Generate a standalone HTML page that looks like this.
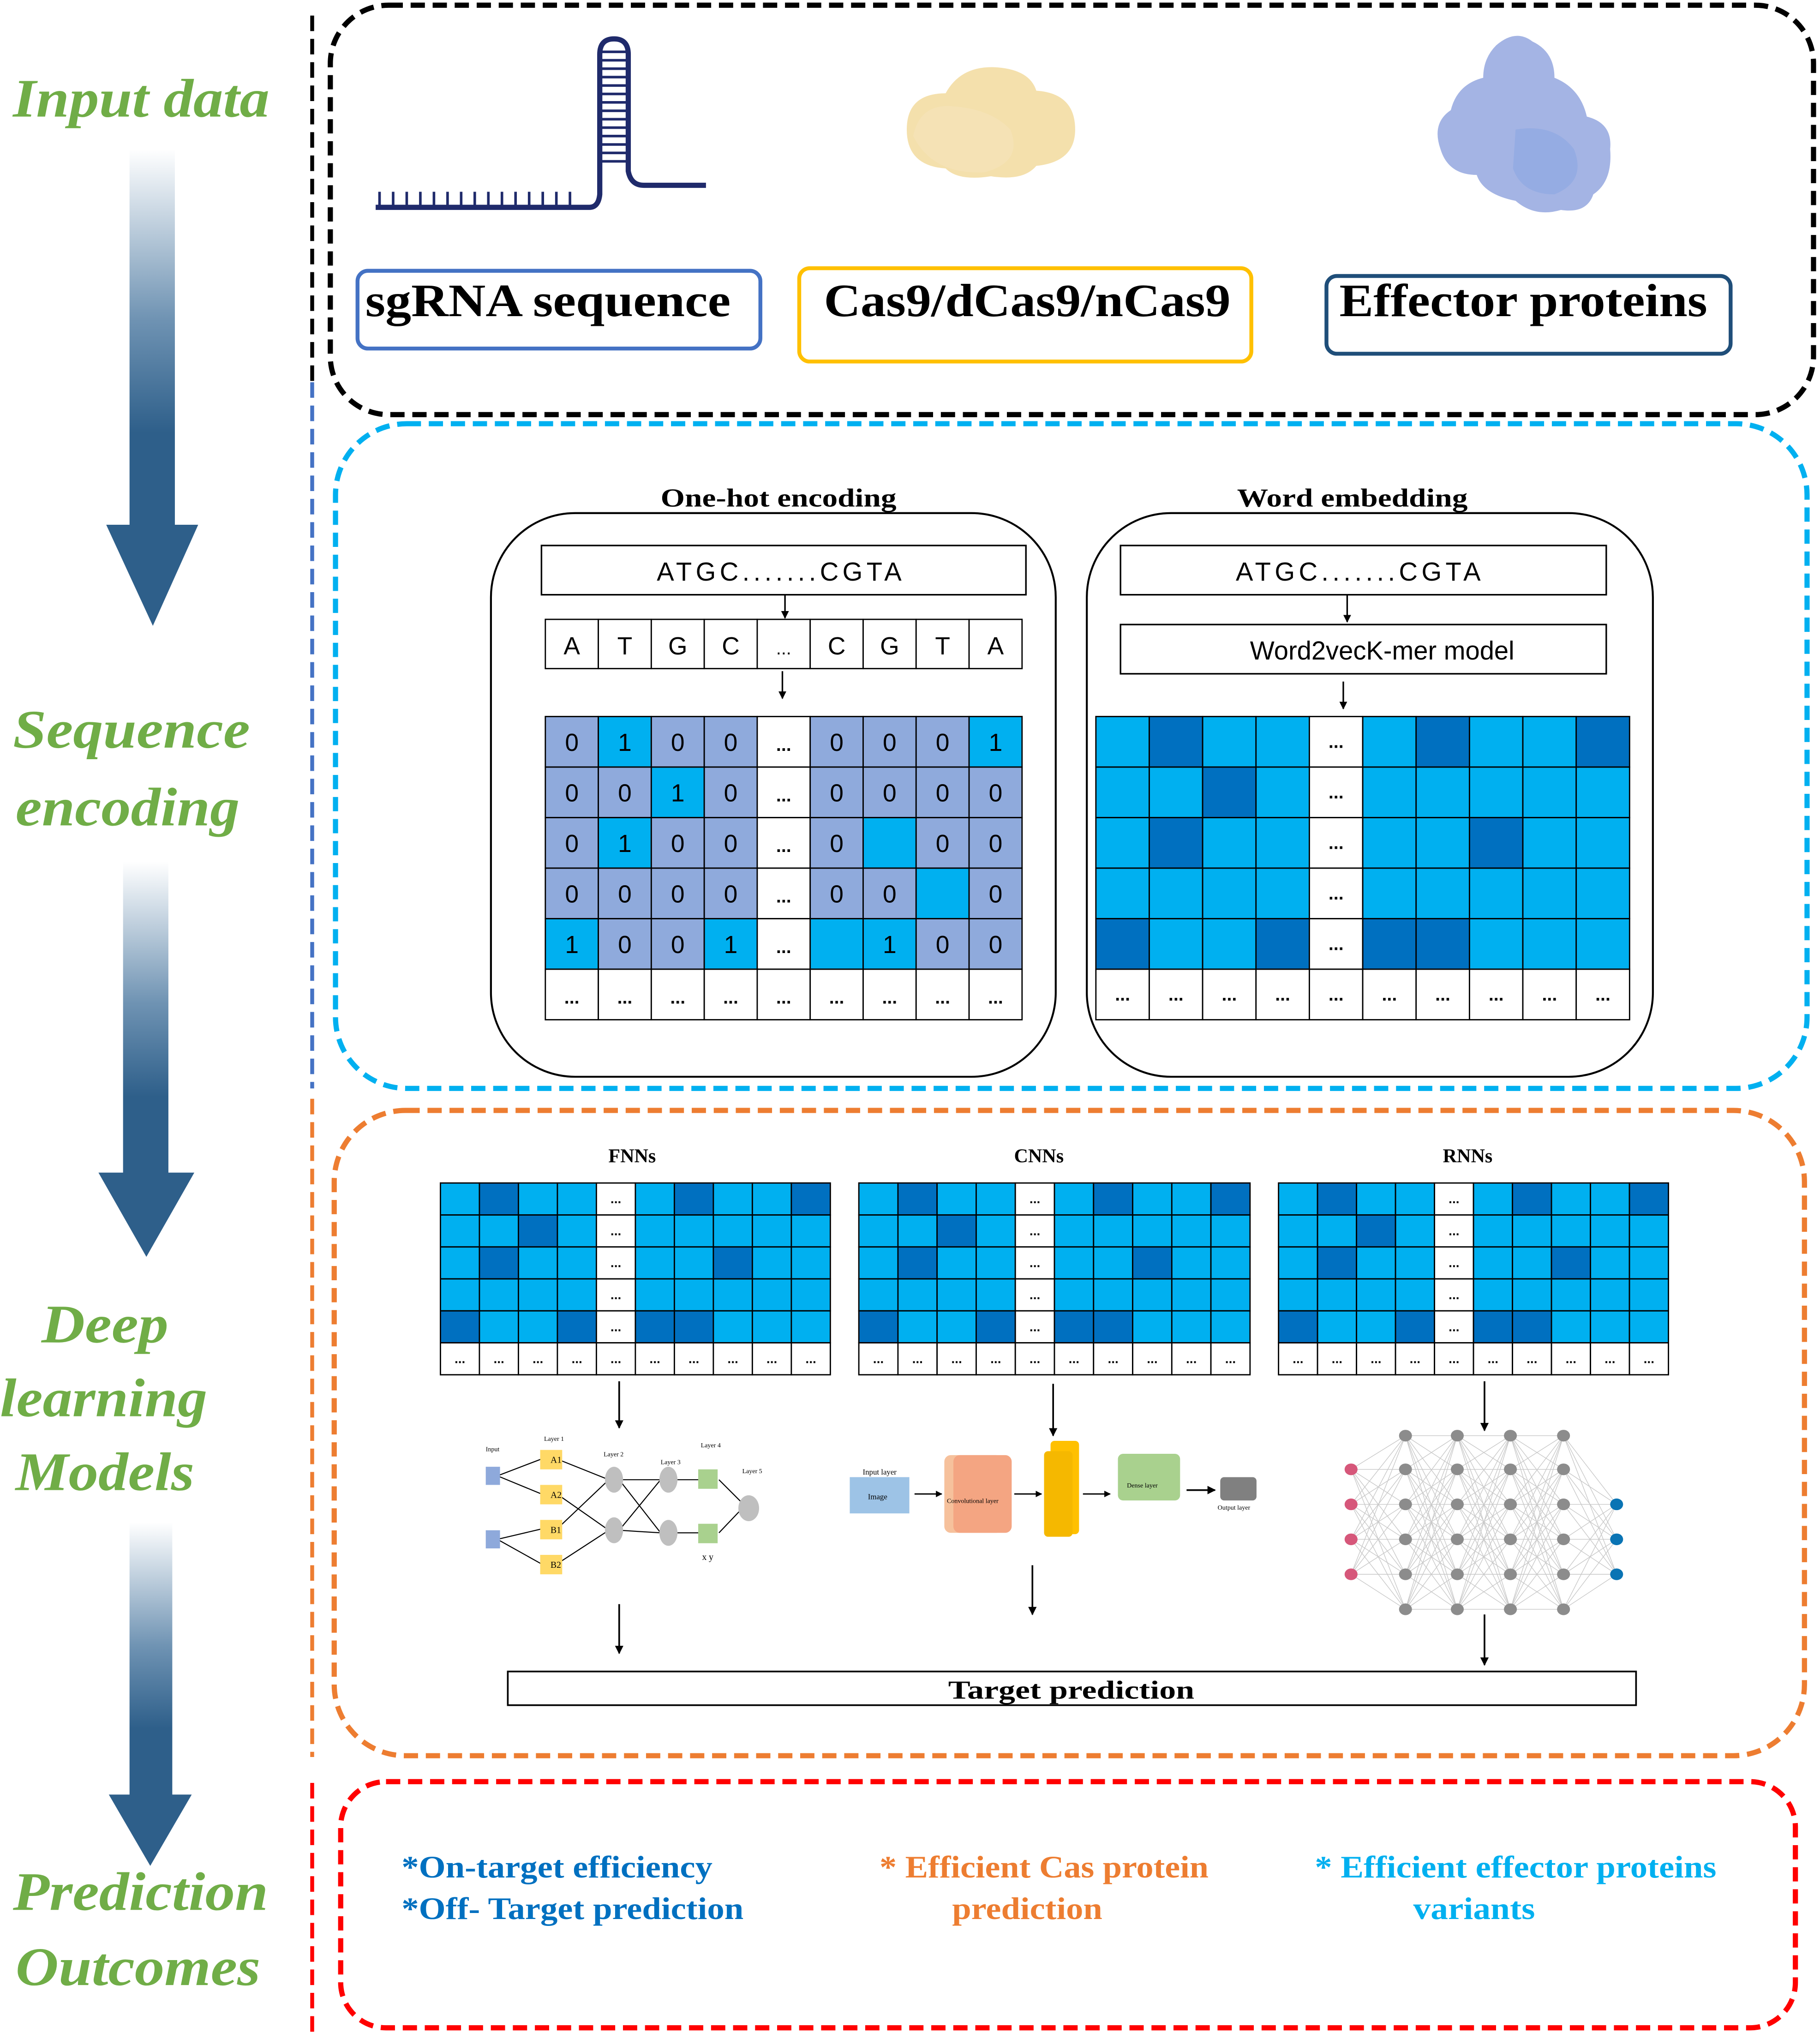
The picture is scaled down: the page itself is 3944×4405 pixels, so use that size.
<!DOCTYPE html>
<html><head><meta charset="utf-8">
<style>
html,body{margin:0;padding:0;background:#fff;}
svg{display:block;}
.ser{font-family:"Liberation Serif",serif;font-weight:bold;}
.san{font-family:"Liberation Sans",sans-serif;}
.lbl{font-family:"Liberation Serif",serif;font-weight:bold;font-style:italic;fill:#70ad47;}
</style></head><body>
<svg id="s" xmlns="http://www.w3.org/2000/svg" width="3944" height="4405" viewBox="0 0 1405 1569" preserveAspectRatio="none">
<defs>
<linearGradient id="ag" x1="0" y1="0" x2="0" y2="1">
<stop offset="0" stop-color="#fff"/><stop offset="0.45" stop-color="#6f93b3"/><stop offset="0.75" stop-color="#2e5f8a"/><stop offset="1" stop-color="#2e5f8a"/>
</linearGradient>
<marker id="ah" viewBox="0 0 10 10" refX="9" refY="5" markerWidth="5" markerHeight="5" orient="auto"><path d="M0,0L10,5L0,10z" fill="#000"/></marker>
</defs>
<rect width="1405" height="1569" fill="#fff"/>

<!-- Left labels -->
<text class="lbl" x="10" y="90" font-size="42" textLength="198" lengthAdjust="spacingAndGlyphs">Input data</text>
<text class="lbl" x="10" y="577" font-size="42" textLength="183" lengthAdjust="spacingAndGlyphs">Sequence</text>
<text class="lbl" x="12" y="637" font-size="42" textLength="173" lengthAdjust="spacingAndGlyphs">encoding</text>
<text class="lbl" x="32" y="1036" font-size="42" textLength="98" lengthAdjust="spacingAndGlyphs">Deep</text>
<text class="lbl" x="0" y="1093" font-size="42" textLength="160" lengthAdjust="spacingAndGlyphs">learning</text>
<text class="lbl" x="12" y="1150" font-size="42" textLength="138" lengthAdjust="spacingAndGlyphs">Models</text>
<text class="lbl" x="10" y="1474" font-size="42" textLength="197" lengthAdjust="spacingAndGlyphs">Prediction</text>
<text class="lbl" x="12" y="1532" font-size="42" textLength="189" lengthAdjust="spacingAndGlyphs">Outcomes</text>

<!-- Left big arrows -->
<rect x="100" y="115" width="35" height="292" fill="url(#ag)"/>
<path d="M82,405H153L118,483Z" fill="#2e5f8a"/>
<rect x="95" y="665" width="35" height="242" fill="url(#ag)"/>
<path d="M76,905H150L113,970Z" fill="#2e5f8a"/>
<rect x="100" y="1175" width="33" height="212" fill="url(#ag)"/>
<path d="M84,1385H148L116,1440Z" fill="#2e5f8a"/>

<!-- Left dashed vertical line -->
<line x1="241" y1="12" x2="241" y2="295" stroke="#000" stroke-width="3" stroke-dasharray="12,6"/>
<line x1="241" y1="295" x2="241" y2="840" stroke="#4472c4" stroke-width="3" stroke-dasharray="12,6"/>
<line x1="241" y1="848" x2="241" y2="1356" stroke="#ed7d31" stroke-width="3" stroke-dasharray="12,6"/>
<line x1="241" y1="1376" x2="241" y2="1569" stroke="#ff0000" stroke-width="3" stroke-dasharray="12,6"/>

<!-- Section boxes -->
<rect x="255" y="4" width="1145" height="316" rx="45" fill="none" stroke="#000" stroke-width="4" stroke-dasharray="11,6"/>
<rect x="259" y="327" width="1136" height="513" rx="55" fill="none" stroke="#00b0f0" stroke-width="4" stroke-dasharray="11,6"/>
<rect x="258" y="857" width="1135" height="498" rx="55" fill="none" stroke="#ed7d31" stroke-width="4" stroke-dasharray="11,6"/>
<rect x="263" y="1375" width="1123" height="190" rx="35" fill="none" stroke="#ff0000" stroke-width="4" stroke-dasharray="11,6"/>

<!-- sgRNA icon -->
<g fill="none" stroke="#1f2a6b" stroke-width="4">
<path d="M290,160H455Q462,160 463,150V42Q463,30 474,30Q485,30 485,42V132Q487,143 497,143H545"/>
</g>
<g id="rungs" stroke="#1f2a6b" stroke-width="2"></g>

<!-- Cas9 blob -->
<path d="M700,100Q700,72 730,72Q742,50 770,52Q795,54 800,70Q830,72 830,100Q830,125 800,128Q790,140 765,136Q740,140 730,130Q700,128 700,100Z" fill="#f3dda3" opacity="0.9"/>
<path d="M705,105Q710,80 735,82Q765,84 780,100Q790,125 760,133Q720,135 705,105Z" fill="#f5e2b5"/>

<!-- Effector blob -->
<path d="M1155,35Q1170,22 1183,32Q1200,40 1200,60Q1220,68 1225,90Q1245,95 1243,115Q1245,140 1230,150Q1225,165 1205,162Q1185,168 1170,155Q1145,150 1140,135Q1118,135 1112,115Q1105,95 1120,85Q1125,65 1145,60Q1145,45 1155,35Z" fill="#a4b4e4"/>
<path d="M1170,100Q1200,95 1215,115Q1225,140 1200,150Q1175,150 1168,130Z" fill="#8ea8e2" opacity="0.7"/>

<!-- Input labels -->
<rect x="276" y="209" width="311" height="60" rx="8" fill="#fff" stroke="#4472c4" stroke-width="3"/>
<text class="ser" x="282" y="244" font-size="36" textLength="282" lengthAdjust="spacingAndGlyphs">sgRNA sequence</text>
<rect x="617" y="207" width="349" height="72" rx="8" fill="#fff" stroke="#ffc000" stroke-width="3"/>
<text class="ser" x="636" y="244" font-size="36" textLength="314" lengthAdjust="spacingAndGlyphs">Cas9/dCas9/nCas9</text>
<rect x="1024" y="213" width="312" height="60" rx="8" fill="#fff" stroke="#1f4e79" stroke-width="3"/>
<text class="ser" x="1034" y="244" font-size="36" textLength="284" lengthAdjust="spacingAndGlyphs">Effector proteins</text>

<!-- Sequence encoding panels -->
<text class="ser" x="601" y="391" font-size="20" text-anchor="middle" textLength="182" lengthAdjust="spacingAndGlyphs">One-hot encoding</text>
<text class="ser" x="1044" y="391" font-size="20" text-anchor="middle" textLength="178" lengthAdjust="spacingAndGlyphs">Word embedding</text>
<rect x="379" y="396" width="436" height="435" rx="65" fill="none" stroke="#000" stroke-width="1.5"/>
<rect x="839" y="396" width="437" height="435" rx="65" fill="none" stroke="#000" stroke-width="1.5"/>
<rect x="418" y="421" width="374" height="38" fill="#fff" stroke="#000" stroke-width="1.2"/>
<text class="san" x="603" y="448" font-size="20" text-anchor="middle" letter-spacing="3">ATGC.......CGTA</text>
<line x1="606" y1="459" x2="606" y2="477" stroke="#000" stroke-width="1.2" marker-end="url(#ah)"/>
<line x1="604" y1="518" x2="604" y2="539" stroke="#000" stroke-width="1.2" marker-end="url(#ah)"/>
<rect x="865" y="421" width="375" height="38" fill="#fff" stroke="#000" stroke-width="1.2"/>
<text class="san" x="1050" y="448" font-size="20" text-anchor="middle" letter-spacing="3">ATGC.......CGTA</text>
<line x1="1040" y1="459" x2="1040" y2="480" stroke="#000" stroke-width="1.2" marker-end="url(#ah)"/>
<rect x="865" y="482" width="375" height="38" fill="#fff" stroke="#000" stroke-width="1.2"/>
<text class="san" x="1067" y="509" font-size="20" text-anchor="middle">Word2vecK-mer model</text>
<line x1="1037" y1="526" x2="1037" y2="547" stroke="#000" stroke-width="1.2" marker-end="url(#ah)"/>
<g id="grids"></g>

<!-- Models -->
<text class="ser" x="488" y="897" font-size="15" text-anchor="middle">FNNs</text>
<text class="ser" x="802" y="897" font-size="15" text-anchor="middle">CNNs</text>
<text class="ser" x="1133" y="897" font-size="15" text-anchor="middle">RNNs</text>
<line x1="478" y1="1066" x2="478" y2="1102" stroke="#000" stroke-width="1.3" marker-end="url(#ah)"/>
<line x1="813" y1="1068" x2="813" y2="1108" stroke="#000" stroke-width="1.3" marker-end="url(#ah)"/>
<line x1="1146" y1="1066" x2="1146" y2="1104" stroke="#000" stroke-width="1.3" marker-end="url(#ah)"/>
<line x1="478" y1="1238" x2="478" y2="1276" stroke="#000" stroke-width="1.3" marker-end="url(#ah)"/>
<line x1="797" y1="1208" x2="797" y2="1246" stroke="#000" stroke-width="1.3" marker-end="url(#ah)"/>
<line x1="1146" y1="1246" x2="1146" y2="1285" stroke="#000" stroke-width="1.3" marker-end="url(#ah)"/>

<!-- FNN (ANFIS) -->
<g stroke="#000" stroke-width="0.8" fill="none">
<path d="M384,1139L418,1126M384,1139L418,1153M384,1188L418,1180M384,1188L418,1207M430,1126L470,1142M430,1153L470,1181M430,1180L470,1142M430,1207L470,1181M478,1142L510,1142M478,1142L510,1183M478,1181L510,1142M478,1181L510,1183M523,1142L540,1142M523,1183L540,1183M555,1142L575,1162M555,1183L575,1162"/>
</g>
<rect x="375" y="1132" width="11" height="14" fill="#8ea9db"/><rect x="375" y="1181" width="11" height="14" fill="#8ea9db"/>
<rect x="417" y="1119" width="17" height="15" fill="#ffd966"/><rect x="417" y="1146" width="17" height="15" fill="#ffd966"/>
<rect x="417" y="1173" width="17" height="15" fill="#ffd966"/><rect x="417" y="1200" width="17" height="15" fill="#ffd966"/>
<ellipse cx="474" cy="1142" rx="7" ry="10" fill="#bfbfbf"/><ellipse cx="474" cy="1181" rx="7" ry="10" fill="#bfbfbf"/>
<ellipse cx="516" cy="1142" rx="7" ry="10" fill="#bfbfbf"/><ellipse cx="516" cy="1183" rx="7" ry="10" fill="#bfbfbf"/>
<rect x="539" y="1134" width="15" height="15" fill="#a9d18e"/><rect x="539" y="1176" width="15" height="15" fill="#a9d18e"/>
<ellipse cx="578" cy="1164" rx="8" ry="10" fill="#bfbfbf"/>
<g font-family="Liberation Serif,serif" font-size="5" fill="#000"><text x="375" y="1120">Input</text><text x="420" y="1112">Layer 1</text><text x="466" y="1124">Layer 2</text><text x="510" y="1130">Layer 3</text><text x="541" y="1117">Layer 4</text><text x="573" y="1137">Layer 5</text><text x="425" y="1129" font-size="7">A1</text><text x="425" y="1156" font-size="7">A2</text><text x="425" y="1183" font-size="7">B1</text><text x="425" y="1210" font-size="7">B2</text><text x="542" y="1204" font-size="7">x y</text></g>

<!-- CNN -->
<rect x="656" y="1140" width="46" height="28" fill="#9dc3e6"/>
<text x="666" y="1138" font-family="Liberation Serif,serif" font-size="6">Input layer</text>
<text x="670" y="1157" font-family="Liberation Serif,serif" font-size="6">Image</text>
<line x1="706" y1="1153" x2="727" y2="1153" stroke="#000" stroke-width="1" marker-end="url(#ah)"/>
<rect x="729" y="1123" width="45" height="60" rx="5" fill="#f4b183" opacity="0.8"/>
<rect x="736" y="1123" width="45" height="60" rx="5" fill="#f4a582"/>
<text x="731" y="1160" font-family="Liberation Serif,serif" font-size="5">Convolutional layer</text>
<line x1="783" y1="1153" x2="804" y2="1153" stroke="#000" stroke-width="1" marker-end="url(#ah)"/>
<rect x="811" y="1112" width="22" height="72" rx="3" fill="#ffc000"/>
<rect x="806" y="1120" width="22" height="66" rx="3" fill="#f5b800"/>
<line x1="836" y1="1153" x2="857" y2="1153" stroke="#000" stroke-width="1" marker-end="url(#ah)"/>
<rect x="863" y="1122" width="48" height="36" rx="4" fill="#a9d18e"/>
<text x="870" y="1148" font-family="Liberation Serif,serif" font-size="5">Dense layer</text>
<line x1="916" y1="1150" x2="938" y2="1150" stroke="#000" stroke-width="1.3" marker-end="url(#ah)"/>
<rect x="942" y="1140" width="28" height="18" rx="3" fill="#808080"/>
<text x="940" y="1165" font-family="Liberation Serif,serif" font-size="5">Output layer</text>

<!-- RNN network -->
<g id="net"></g>

<!-- Target prediction -->
<rect x="392" y="1290" width="871" height="26" fill="#fff" stroke="#000" stroke-width="1.3"/>
<text class="ser" x="827" y="1311" font-size="20" text-anchor="middle" textLength="190" lengthAdjust="spacingAndGlyphs">Target prediction</text>

<!-- Outcomes -->
<text class="ser" x="310" y="1449" font-size="24" fill="#0070c0" textLength="240" lengthAdjust="spacingAndGlyphs">*On-target efficiency</text>
<text class="ser" x="310" y="1481" font-size="24" fill="#0070c0" textLength="264" lengthAdjust="spacingAndGlyphs">*Off- Target prediction</text>
<text class="ser" x="806" y="1449" font-size="24" fill="#ed7d31" text-anchor="middle" textLength="254" lengthAdjust="spacingAndGlyphs">* Efficient Cas protein</text>
<text class="ser" x="793" y="1481" font-size="24" fill="#ed7d31" text-anchor="middle" textLength="116" lengthAdjust="spacingAndGlyphs">prediction</text>
<text class="ser" x="1170" y="1449" font-size="24" fill="#00b0f0" text-anchor="middle" textLength="310" lengthAdjust="spacingAndGlyphs">* Efficient effector proteins</text>
<text class="ser" x="1138" y="1481" font-size="24" fill="#00b0f0" text-anchor="middle" textLength="94" lengthAdjust="spacingAndGlyphs">variants</text>
</svg>
<script>
var NS="http://www.w3.org/2000/svg";
function el(p,t,a,txt){var e=document.createElementNS(NS,t);for(var k in a)e.setAttribute(k,a[k]);if(txt!=null)e.textContent=txt;p.appendChild(e);return e;}
var r=document.getElementById('rungs');
for(var i=0;i<15;i++){var x=293+i*10.5;el(r,'line',{x1:x,y1:148,x2:x,y2:160});}
for(var y=40;y<=130;y+=6.5){el(r,'line',{x1:463,y1:y,x2:485,y2:y});}
var g=document.getElementById('grids');
var L='#8faadc',B='#00b0f0',D='#0070c0',W='#fff';
var cw=(789-421)/9,rh=(787-553)/6;
// letter row
var let=['A','T','G','C','...','C','G','T','A'];
for(var ci=0;ci<9;ci++){var x=421+ci*cw;
 el(g,'rect',{x:x,y:478,width:cw,height:38,fill:W,stroke:'#000','stroke-width':1});
 el(g,'text',{x:x+cw/2,y:505,'text-anchor':'middle','font-size':let[ci]=='...'?14:19,'font-family':'Liberation Sans,sans-serif'},let[ci]);}
// one-hot
var oh=[["0","L"],["1","B"]];
var M=[["0L","1B","0L","0L","-W","0L","0L","0L","1B"],
["0L","0L","1B","0L","-W","0L","0L","0L","0L"],
["0L","1B","0L","0L","-W","0L"," B","0L","0L"],
["0L","0L","0L","0L","-W","0L","0L"," B","0L"],
["1B","0L","0L","1B","-W"," B","1B","0L","0L"]];
for(var ri=0;ri<6;ri++)for(var ci=0;ci<9;ci++){
 var x=421+ci*cw,y=553+ri*rh,fill=W,t='...';
 if(ri<5){var c=M[ri][ci];t=c[0]=='-'?'...':c[0].trim();fill={L:L,B:B,W:W}[c[1]];}
 el(g,'rect',{x:x,y:y,width:cw,height:rh,fill:fill,stroke:'#000','stroke-width':1});
 if(t)el(g,'text',{x:x+cw/2,y:y+rh/2+7,'text-anchor':'middle','font-size':t=='...'?14:19,'font-family':'Liberation Sans,sans-serif','font-weight':t=='...'?'bold':'normal'},t);
}
var dark=[[1,6,9],[2],[1,7],[],[0,3,5,6]];
function emb(x0,y0,w,h,fs){
 var cw=w/10,rh=h/6;
 for(var ri=0;ri<6;ri++)for(var ci=0;ci<10;ci++){
  var x=x0+ci*cw,y=y0+ri*rh,fill=B,t=null;
  if(ri==5||ci==4){fill=W;t='...';}
  else if(dark[ri].indexOf(ci)>=0)fill=D;
  el(g,'rect',{x:x,y:y,width:cw,height:rh,fill:fill,stroke:'#000','stroke-width':1});
  if(t)el(g,'text',{x:x+cw/2,y:y+rh/2+fs/3,'text-anchor':'middle','font-size':fs,'font-family':'Liberation Sans,sans-serif','font-weight':'bold'},t);
 }
}
emb(846,553,412,234,14);
emb(340,913,301,148,10);
emb(663,913,302,148,10);
emb(987,913,301,148,10);
// RNN net
var n=document.getElementById('net');
var cols=[[1043,[1134,1161,1188,1215],'#d6577a']];
var gy=[1108,1134,1161,1188,1215,1242];
[1085,1125,1166,1207].forEach(function(x){cols.push([x,gy,'#8c8c8c']);});
cols.push([1248,[1161,1188,1215],'#0a74b4']);
for(var i=0;i<cols.length-1;i++){cols[i][1].forEach(function(a){cols[i+1][1].forEach(function(b){el(n,'line',{x1:cols[i][0],y1:a,x2:cols[i+1][0],y2:b,stroke:'#c8c8c8','stroke-width':0.5});});});}
cols.forEach(function(c){c[1].forEach(function(y){el(n,'ellipse',{cx:c[0],cy:y,rx:5,ry:4.5,fill:c[2]});});});
</script>
</body></html>
